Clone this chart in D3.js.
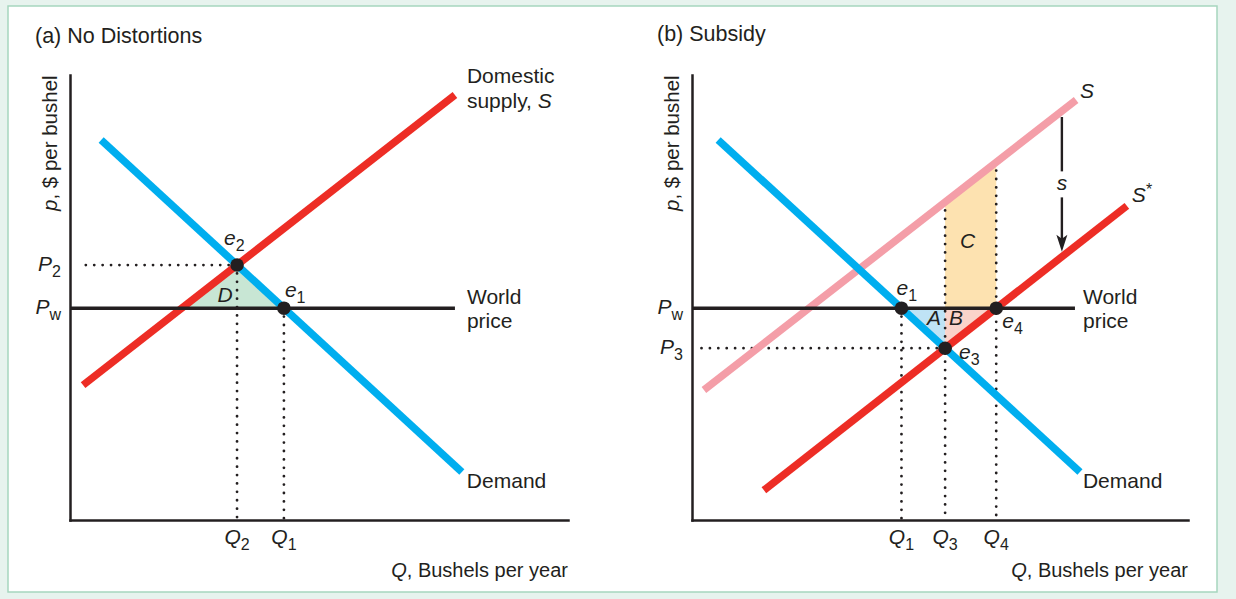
<!DOCTYPE html>
<html><head><meta charset="utf-8">
<script src="https://cdn.jsdelivr.net/npm/d3@7"></script>
<style>
body{margin:0;background:#e7f3ee;}
svg{display:block;font-family:"Liberation Sans",Arial,Helvetica,sans-serif;}
</style>
</head><body>
<svg id="c" width="1236" height="599"></svg>
<script>
// ---------- DATA ----------
// Panel (a) No Distortions  (q = bushels index, p = price index)
const supplyA = [{q:3.4,p:30.3},{q:100.1,p:95.5}];
const demandA = [{q:8.1,p:85.4},{q:101.9,p:10.8}];
const worldPriceA = 47.6;
const worldSpanA = [0, 100.1];
// Panel (b) Subsidy
const supplyB = [{q:3.1,p:29.2},{q:99.9,p:94.4}];
const supplyStarB = [{q:18.7,p:6.7},{q:113.1,p:70.6}];
const demandB = [{q:6.8,p:85.4},{q:100.9,p:10.8}];
const worldPriceB = 47.6;
const worldSpanB = [0, 99.6];
const subsidyArrowQ = 96.2;
// Text
const titles = ["(a) No Distortions", "(b) Subsidy"];
const yAxisLabel = ["p", ", $ per bushel"];
const xAxisLabel = ["Q", ", Bushels per year"];
const priceTicksA = [["P","2"],["P","w"]];
const qTicksA = [["Q","2"],["Q","1"]];
const priceTicksB = [["P","w"],["P","3"]];
const qTicksB = [["Q","1"],["Q","3"],["Q","4"]];

// ---------- HELPERS ----------
const COL = {red:"#ed2d25", blue:"#00aeef", pink:"#f49ea8", black:"#231f20",
  green:"#c8e6d4", orange:"#fde2b0", lblue:"#bfe3f5", lpink:"#fad3ca"};
const FS = 21, SFS = 16;
function pAt(l,q){return l[0].p+(l[1].p-l[0].p)*(q-l[0].q)/(l[1].q-l[0].q);}
function qAt(l,p){return l[0].q+(l[1].q-l[0].q)*(p-l[0].p)/(l[1].p-l[0].p);}
function intersect(a,b){
  const ma=(a[1].p-a[0].p)/(a[1].q-a[0].q), mb=(b[1].p-b[0].p)/(b[1].q-b[0].q);
  const q=(b[0].p-mb*b[0].q-(a[0].p-ma*a[0].q))/(ma-mb);
  return {q:q,p:pAt(a,q)};
}
const svg = d3.select("#c");
svg.append("rect").attr("width",1236).attr("height",599).attr("fill","#e7f3ee");
svg.append("rect").attr("x",8).attr("y",6).attr("width",1209).attr("height",586)
  .attr("fill","#fff").attr("stroke","#a6d6be").attr("stroke-width",1.5);

function label(g,x,y,parts,anchor,size){
  const t=g.append("text").attr("x",x).attr("y",y).attr("text-anchor",anchor||"start")
    .attr("font-size",size||FS).attr("fill",COL.black);
  let shift=0;
  parts.forEach(pt=>{
    const s=t.append("tspan").text(pt.t);
    if(pt.i) s.attr("font-style","italic");
    let target = pt.sub?6:(pt.sup?-7:0);
    if(target!==shift){ s.attr("dy",target-shift); shift=target; }
    if(pt.sub||pt.sup) s.attr("font-size",SFS);
  });
  return t;
}
function panel(cfg){
  const g=svg.append("g");
  const x=d3.scaleLinear().domain([0,cfg.qMax]).range([cfg.x0,cfg.x1]);
  const y=d3.scaleLinear().domain([0,100]).range([520,75]);
  const line=d3.line().x(d=>x(d.q)).y(d=>y(d.p));
  return {g,x,y,line};
}
function fillPoly(P,pts,color){
  P.g.append("path").attr("d",P.line(pts)+"Z").attr("fill",color);
}
function dots(P,a,b){
  P.g.append("line").attr("x1",a[0]).attr("y1",a[1]).attr("x2",b[0]).attr("y2",b[1])
    .attr("stroke",COL.black).attr("stroke-width",2.8).attr("stroke-linecap","round")
    .attr("stroke-dasharray","0 8.4");
}
function curve(P,pts,color,w){
  P.g.append("path").attr("d",P.line(pts)).attr("fill","none").attr("stroke",color)
    .attr("stroke-width",w||7.5);
}
function axes(P,titleText,tx,ty){
  P.g.append("g").attr("transform",`translate(0,${P.y(0)})`)
    .call(d3.axisBottom(P.x).tickValues([]).tickSizeOuter(0))
    .call(a=>a.select(".domain").attr("stroke",COL.black).attr("stroke-width",2.5).attr("stroke-linecap","square"));
  P.g.append("g").attr("transform",`translate(${P.x(0)},0)`)
    .call(d3.axisLeft(P.y).tickValues([]).tickSizeOuter(0))
    .call(a=>a.select(".domain").attr("stroke",COL.black).attr("stroke-width",2.5).attr("stroke-linecap","square"));
  label(P.g,tx,ty,[{t:titleText}],"start",21.5);
  const yl=label(P.g,0,0,[{t:yAxisLabel[0],i:true},{t:yAxisLabel[1]}],"start",20.5);
  yl.attr("transform",`translate(${P.x(0)-13},211) rotate(-90)`);
  label(P.g,P.x.range()[1],577,[{t:xAxisLabel[0],i:true},{t:xAxisLabel[1]}],"end",20);
}
function eqDot(P,pt){
  P.g.append("circle").attr("cx",P.x(pt.q)).attr("cy",P.y(pt.p)).attr("r",6.8).attr("fill",COL.black);
}
function pTick(P,p,lab){
  label(P.g,P.x(0)-9,P.y(p)+6,[{t:lab[0],i:true},{t:lab[1],sub:true}],"end");
}
function qTick(P,q,lab){
  label(P.g,P.x(q),544,[{t:lab[0],i:true},{t:lab[1],sub:true}],"middle");
}

// ---------- PANEL A ----------
(function(){
  const P=panel({x0:70,x1:568,qMax:129.5});
  const {x,y}=P;
  const Pw=worldPriceA;
  const e2=intersect(supplyA,demandA);
  const e1={q:qAt(demandA,Pw),p:Pw};
  const sPw={q:qAt(supplyA,Pw),p:Pw};
  fillPoly(P,[sPw,e2,e1],COL.green);
  dots(P,[x(e2.q),y(e2.p)],[x(0)+8,y(e2.p)]);
  dots(P,[x(e2.q),y(e2.p)],[x(e2.q),y(0)]);
  dots(P,[x(e1.q),y(e1.p)],[x(e1.q),y(0)]);
  curve(P,supplyA,COL.red);
  curve(P,demandA,COL.blue);
  curve(P,[{q:worldSpanA[0],p:Pw},{q:worldSpanA[1],p:Pw}],COL.black,3.5);
  axes(P,titles[0],35,43);
  eqDot(P,e2); eqDot(P,e1);
  pTick(P,e2.p,priceTicksA[0]); pTick(P,Pw,priceTicksA[1]);
  qTick(P,e2.q,qTicksA[0]); qTick(P,e1.q,qTicksA[1]);
  label(P.g,x(e2.q)-13,y(e2.p)-20,[{t:"e",i:true},{t:"2",sub:true}]);
  label(P.g,x(e1.q)+1,y(e1.p)-11,[{t:"e",i:true},{t:"1",sub:true}]);
  label(P.g,x(e2.q)-12,y(Pw)-6,[{t:"D",i:true}],"middle");
  const se=supplyA[1];
  label(P.g,x(se.q)+12,y(se.p)-12,[{t:"Domestic"}]);
  label(P.g,x(se.q)+12,y(se.p)+13,[{t:"supply, "},{t:"S",i:true}]);
  label(P.g,x(worldSpanA[1])+12,y(Pw)-4,[{t:"World"}]);
  label(P.g,x(worldSpanA[1])+12,y(Pw)+20,[{t:"price"}]);
  const de=demandA[1];
  label(P.g,x(de.q)+5,y(de.p)+16,[{t:"Demand"}]);
})();

// ---------- PANEL B ----------
(function(){
  const P=panel({x0:692,x1:1188,qMax:129});
  const {x,y}=P;
  const Pw=worldPriceB;
  const e1={q:qAt(demandB,Pw),p:Pw};
  const e3=intersect(supplyStarB,demandB);
  const e4={q:qAt(supplyStarB,Pw),p:Pw};
  const m3={q:e3.q,p:Pw};
  const s3={q:e3.q,p:pAt(supplyB,e3.q)}, s4={q:e4.q,p:pAt(supplyB,e4.q)};
  fillPoly(P,[m3,s3,s4,e4],COL.orange);
  fillPoly(P,[e1,m3,e3],COL.lblue);
  fillPoly(P,[m3,e4,e3],COL.lpink);
  dots(P,[x(e3.q),y(e3.p)],[x(0)+6,y(e3.p)]);
  dots(P,[x(e1.q),y(e1.p)],[x(e1.q),y(0)]);
  dots(P,[x(e3.q),y(s3.p)],[x(e3.q),y(0)]);
  dots(P,[x(e4.q),y(s4.p)],[x(e4.q),y(0)]);
  curve(P,supplyB,COL.pink);
  curve(P,demandB,COL.blue);
  curve(P,supplyStarB,COL.red);
  curve(P,[{q:worldSpanB[0],p:Pw},{q:worldSpanB[1],p:Pw}],COL.black,3.5);
  axes(P,titles[1],657,41);
  eqDot(P,e1); eqDot(P,e3); eqDot(P,e4);
  pTick(P,Pw,priceTicksB[0]); pTick(P,e3.p,priceTicksB[1]);
  qTick(P,e1.q,qTicksB[0]); qTick(P,e3.q,qTicksB[1]); qTick(P,e4.q,qTicksB[2]);
  label(P.g,x(e1.q)-5,y(e1.p)-13,[{t:"e",i:true},{t:"1",sub:true}]);
  label(P.g,x(e3.q)+14,y(e3.p)+11,[{t:"e",i:true},{t:"3",sub:true}]);
  label(P.g,x(e4.q)+6,y(e4.p)+20,[{t:"e",i:true},{t:"4",sub:true}]);
  label(P.g,x(e3.q)-4,y(Pw)+17,[{t:"A",i:true}],"end");
  label(P.g,x(e3.q)+4,y(Pw)+17,[{t:"B",i:true}]);
  label(P.g,(x(e3.q)+x(e4.q))/2-3,y(Pw)-60,[{t:"C",i:true}],"middle");
  // subsidy arrow
  const ax=x(subsidyArrowQ);
  const yTop=y(pAt(supplyB,subsidyArrowQ))+6, yTip=y(pAt(supplyStarB,subsidyArrowQ))-5;
  const ym=(yTop+yTip)/2;
  P.g.append("line").attr("x1",ax).attr("x2",ax).attr("y1",yTop).attr("y2",ym-13)
    .attr("stroke",COL.black).attr("stroke-width",2.4);
  P.g.append("line").attr("x1",ax).attr("x2",ax).attr("y1",ym+13).attr("y2",yTip-12)
    .attr("stroke",COL.black).attr("stroke-width",2.4);
  P.g.append("path").attr("d",`M${ax},${yTip}L${ax-5.5},${yTip-17}L${ax},${yTip-13}L${ax+5.5},${yTip-17}Z`)
    .attr("fill",COL.black);
  label(P.g,ax,ym+6,[{t:"s",i:true}],"middle");
  const se=supplyB[1];
  label(P.g,x(se.q)+4,y(se.p)-2,[{t:"S",i:true}]);
  const ss=supplyStarB[1];
  label(P.g,x(ss.q)+5,y(ss.p)-4,[{t:"S",i:true},{t:"*",sup:true}]);
  label(P.g,x(worldSpanB[1])+8,y(Pw)-4,[{t:"World"}]);
  label(P.g,x(worldSpanB[1])+8,y(Pw)+20,[{t:"price"}]);
  const de=demandB[1];
  label(P.g,x(de.q)+3,y(de.p)+16,[{t:"Demand"}]);
})();
</script>
</body></html>
